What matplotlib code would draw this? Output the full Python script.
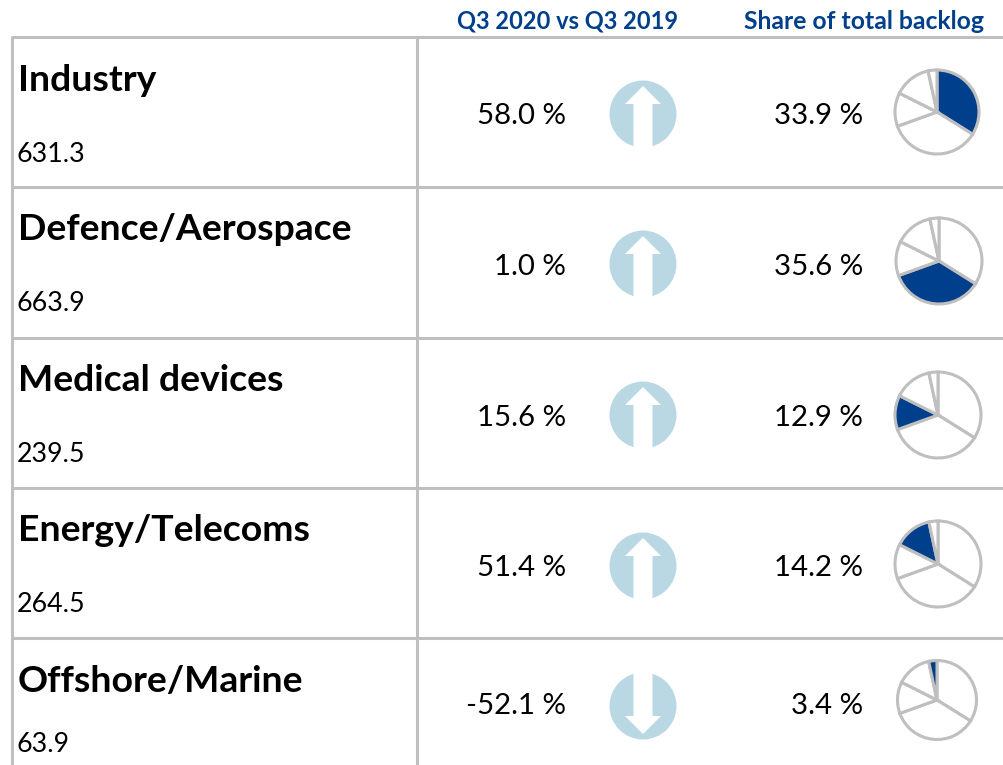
import matplotlib
matplotlib.use("Agg")
from matplotlib import pyplot as plt
from matplotlib.patches import Circle, Polygon

plt.rcParams['font.family'] = ['Lato', 'DejaVu Sans']

W, H = 1004, 765
GREY = "#BFBFBF"
BLUE = "#003F8C"
LIGHT = "#BAD8E3"

# data
segments = ["Industry", "Defence/Aerospace", "Medical devices", "Energy/Telecoms", "Offshore/Marine"]
backlog = ["631.3", "663.9", "239.5", "264.5", "63.9"]
change = [58.0, 1.0, 15.6, 51.4, -52.1]
share = [33.9, 35.6, 12.9, 14.2, 3.4]
headers = ["Q3 2020 vs Q3 2019", "Share of total backlog"]

# layout, in pixels from the top left
row_lines = [37, 187, 338, 488, 638]
title_y = [80.5, 229.5, 380.5, 530.5, 681.5]
sub_y = [154, 303, 454, 604, 744]
pct_y = [115.5, 266.5, 417.5, 567.5, 706.5]
arrow_y = [114, 264, 415, 566, 706]
pie_xy = [(937, 112, 42), (939, 261, 43), (938, 415, 43), (938, 564, 43), (937, 700, 39.5)]

fig = plt.figure(figsize=(W / 100, H / 100), dpi=100)
ax = fig.add_axes([0, 0, 1, 1])
ax.set_xlim(0, W)
ax.set_ylim(H, 0)
ax.axis("off")

for y in row_lines:
    ax.plot([12, W], [y, y], color=GREY, lw=2.2, solid_capstyle="butt")
for x in [12.5, 417]:
    ax.plot([x, x], [36, H], color=GREY, lw=2.2, solid_capstyle="butt")

ax.text(567.5, 21, headers[0], color=BLUE, fontsize=17, fontweight="bold", ha="center", va="center")
ax.text(864, 21, headers[1], color=BLUE, fontsize=17.8, fontweight="bold", ha="center", va="center")


def draw_arrow(cy, up):
    cx = 643
    s = 1 if up else -1
    ax.add_patch(Circle((cx, cy), 33.5, color=LIGHT, lw=0))
    ax.add_patch(Polygon([
        (cx, cy - s * 28), (cx + 18, cy - s * 10), (cx + 9.5, cy - s * 10),
        (cx + 9.5, cy + s * 34), (cx - 9.5, cy + s * 34), (cx - 9.5, cy - s * 10),
        (cx - 18, cy - s * 10)], color="white", lw=0))


for i, name in enumerate(segments):
    ax.text(18, title_y[i], name, fontsize=26.9, fontweight="bold", color="black", ha="left", va="center")
    ax.text(17, sub_y[i], backlog[i], fontsize=19.3, color="black", ha="left", va="center")
    ax.text(566, pct_y[i], f"{change[i]:.1f} %", fontsize=21.2, color="black", ha="right", va="center")
    ax.text(863, pct_y[i], f"{share[i]:.1f} %", fontsize=21.2, color="black", ha="right", va="center")
    draw_arrow(arrow_y[i], change[i] > 0)

    cx, cy, r = pie_xy[i]
    pie_ax = fig.add_axes([(cx - r) / W, 1 - (cy + r) / H, 2 * r / W, 2 * r / H])
    colors = [BLUE if j == i else "white" for j in range(len(share))]
    pie_ax.pie(share, colors=colors, startangle=90, counterclock=False, radius=1,
               wedgeprops={"edgecolor": GREY, "linewidth": 2.2})
    pie_ax.set_xlim(-1, 1)
    pie_ax.set_ylim(-1, 1)
    for patch in pie_ax.patches:
        patch.set_clip_on(False)

fig.savefig("out.png", dpi=100)
